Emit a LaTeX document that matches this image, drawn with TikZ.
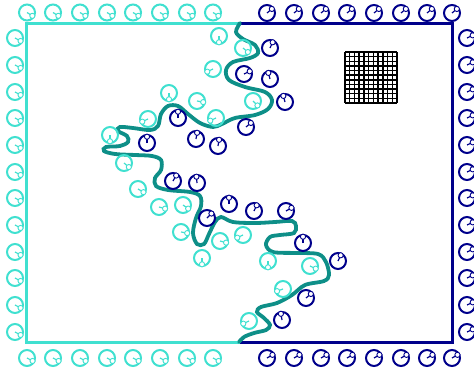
\documentclass[tikz,border=0pt]{standalone}
\usetikzlibrary{calc}
\definecolor{cyanA}{HTML}{40E0D0}
\definecolor{navyA}{HTML}{00008B}
\definecolor{tealA}{HTML}{0E8F88}
\tikzset{
  ringstyle/.style={line width=2pt},
  armstyle/.style={line width=1.2pt},
  bulbstyle/.style={line width=0.9pt, fill=white},
  framestyle/.style={line width=3pt},
  wavestyle/.style={line width=3.8pt, color=tealA, line cap=round},
  gridstyle/.style={line width=1.4pt, black}
}
\newcommand\myglyph[4]{%
  \draw[#4, ringstyle] (#1,#2) circle (8);
  \draw[#4, armstyle] (#1,#2) -- ++(#3:6.3);
  \draw[#4, bulbstyle] (#1,#2) ++(#3:6.3) circle (2.6);
}
\begin{document}
\begin{tikzpicture}[x=1pt,y=-1pt]
\useasboundingbox (0,0) rectangle (474,372);
% frame
\coordinate (tl) at (26,23);
\coordinate (tm) at (240,23);
\coordinate (tr) at (452,23);
\coordinate (bl) at (26,342);
\coordinate (bm) at (240,342);
\coordinate (br) at (452,342);
\draw[framestyle, cyanA, line join=miter] (tm) -- (tl) -- (bl) -- (bm);
\draw[framestyle, navyA, line join=miter] (tm) -- (tr) -- (br) -- (bm);
% grid
\foreach \i in {0,...,11} {
  \draw[gridstyle] (345+\i*4.727,52) -- ++(0,51);
  \draw[gridstyle] (345,52+\i*4.636) -- ++(52,0);
}
% wave
\draw[wavestyle] plot[smooth, tension=0.55] coordinates {
(240,23) (236,32) (243,39) (255,45) (258,53) (250,58) (233,62) (226,70) (229,80)
(245,87) (265,92) (272,100) (268,109) (255,115) (235,118) (222,124) (213,127)
(200,123) (188,114) (178,106) (168,106) (161,114) (158,126) (150,130) (133,128)
(120,127) (118,131) (127,136) (128,142) (120,146) (106,147) (104,151) (115,154)
(135,155) (152,156) (161,160) (161,170) (155,178) (156,186) (168,190) (190,192)
(200,196) (201,206) (196,218) (193,233) (197,244) (204,244) (209,234) (215,222)
(221,217) (233,222) (255,223) (275,222) (292,221) (296,226) (294,233) (280,235)
(270,237) (266,245) (273,252) (295,253) (318,254) (326,262) (329,275) (324,281)
(305,285) (292,295) (277,303) (261,307) (257,312) (264,318) (270,325) (266,330)
(254,333) (244,337) (239,342)};
% border glyphs
\foreach \x in {27,53,80,107,133,160,187,213} {
  \myglyph{\x}{12.5}{32}{cyanA}
  \myglyph{\x}{358}{28}{cyanA}
}
\foreach \x in {267,294,321,347,374,401,427,452} {
  \myglyph{\x}{13}{-40}{navyA}
  \myglyph{\x}{358}{-30}{navyA}
}
\foreach \y in {38,65,92,118,145,172,198,225,252,278,305,332} {
  \myglyph{15}{\y}{28}{cyanA}
  \myglyph{467}{\y}{-25}{navyA}
}
% interior cyan glyphs
\foreach \x/\y/\a in {219/36/90, 243/48/40, 213/69/155, 169/93/90, 197/101/10,
  253/101/45, 148/119/155, 216/118/155, 110/135/90, 124/163/40, 138/189/30,
  159/207/15, 183/205/35, 181/232/10, 220/241/15, 243/235/155, 202/258/90,
  268/261/90, 310/266/25, 283/289/160, 249/321/155} {
  \myglyph{\x}{\y}{\a}{cyanA}
}
% interior navy glyphs
\foreach \x/\y/\a in {270/48/-65, 244/74/-25, 270/79/-105, 285/102/-105,
  178/118/-90, 246/127/-40, 147/143/-90, 196/139/-80, 218/146/-80,
  173/181/-60, 197/183/-95, 229/204/-90, 254/211/-65, 286/211/-30,
  207/218/-45, 303/243/-90, 338/261/-65, 306/298/-40, 282/320/-100} {
  \myglyph{\x}{\y}{\a}{navyA}
}
\end{tikzpicture}
\end{document}
